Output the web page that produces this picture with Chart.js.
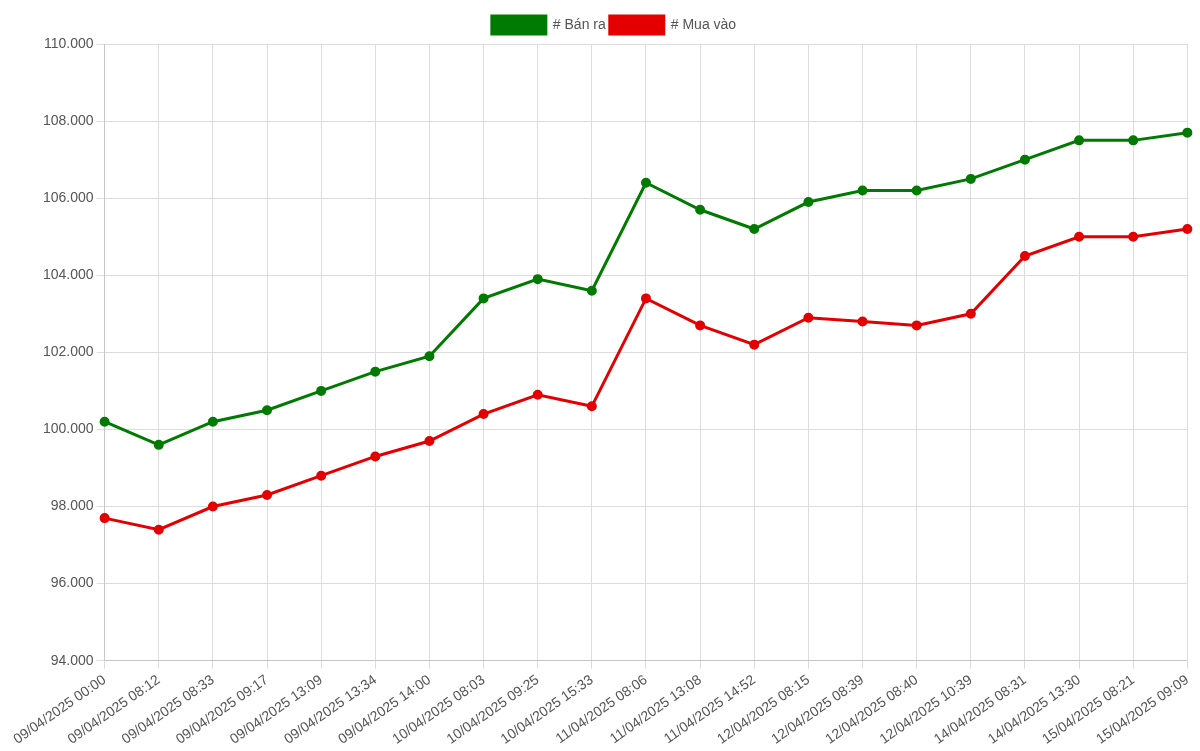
<!DOCTYPE html>
<html>
<head>
<meta charset="utf-8">
<script src="https://cdn.jsdelivr.net/npm/chart.js@4"></script>
<style>
html, body { margin: 0; padding: 0; background: #fff; }
#wrap { width: 1200px; height: 751px; }
</style>
</head>
<body>
<div id="wrap"><canvas id="myChart"></canvas></div>
<script>
var labels = ['09/04/2025 00:00', '09/04/2025 08:12', '09/04/2025 08:33', '09/04/2025 09:17', '09/04/2025 13:09',
    '09/04/2025 13:34', '09/04/2025 14:00', '10/04/2025 08:03', '10/04/2025 09:25', '10/04/2025 15:33',
    '11/04/2025 08:06', '11/04/2025 13:08', '11/04/2025 14:52', '12/04/2025 08:15', '12/04/2025 08:39',
    '12/04/2025 08:40', '12/04/2025 10:39', '14/04/2025 08:31', '14/04/2025 13:30', '15/04/2025 08:21',
    '15/04/2025 09:09'];
var banRa = [100200, 99600, 100200, 100500, 101000, 101500, 101900, 103400, 103900, 103600,
    106400, 105700, 105200, 105900, 106200, 106200, 106500, 107000, 107500, 107500, 107700];
var muaVao = [97700, 97400, 98000, 98300, 98800, 99300, 99700, 100400, 100900, 100600,
    103400, 102700, 102200, 102900, 102800, 102700, 103000, 104500, 105000, 105000, 105200];

function fmt(v) {
    return String(Math.round(v)).replace(/\B(?=(\d{3})+(?!\d))/g, '.');
}

Chart.defaults.font.family = 'Arial, "Liberation Sans", sans-serif';
Chart.defaults.color = '#555';

var ctx = document.getElementById('myChart').getContext('2d');
var myChart = new Chart(ctx, {
    type: 'line',
    data: {
        labels: labels,
        datasets: [{
            label: '# Bán ra',
            data: banRa,
            borderColor: 'rgb(0, 122, 0)',
            backgroundColor: 'rgb(0, 122, 0)',
            borderWidth: 3,
            pointRadius: 3.5,
            tension: 0
        }, {
            label: '# Mua vào',
            data: muaVao,
            borderColor: 'rgb(228, 0, 0)',
            backgroundColor: 'rgb(228, 0, 0)',
            borderWidth: 3,
            pointRadius: 3.5,
            tension: 0
        }]
    },
    options: {
        responsive: true,
        maintainAspectRatio: false,
        animation: false,
        layout: { padding: { left: 40, right: 12, top: 12, bottom: 0 } },
        plugins: {
            legend: {
                position: 'top',
                labels: { boxWidth: 54, boxHeight: 18, font: { size: 14 }, padding: 4 }
            },
            tooltip: { enabled: false }
        },
        scales: {
            x: {
                grid: { color: '#ddd' },
                ticks: { font: { size: 14 }, maxRotation: 35, minRotation: 35, autoSkip: false }
            },
            y: {
                min: 94000,
                max: 110000,
                grid: { color: '#ddd' },
                ticks: { stepSize: 2000, font: { size: 14 }, callback: function (v) { return fmt(v); } }
            }
        }
    }
});
</script>
</body>
</html>
